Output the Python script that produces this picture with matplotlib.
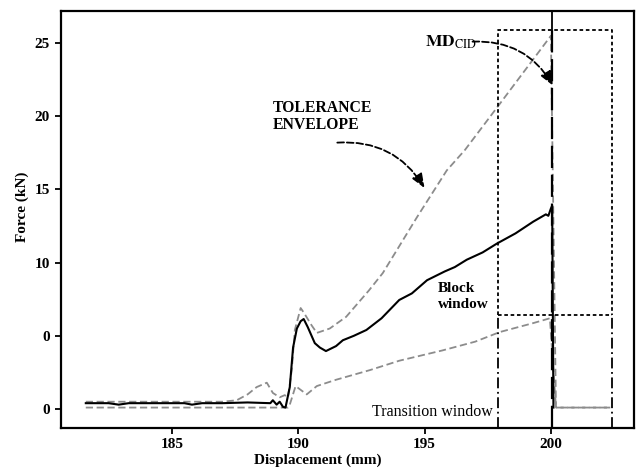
import matplotlib
matplotlib.use("Agg")
import matplotlib.pyplot as plt

plt.rcParams['font.family'] = ['Liberation Serif', 'DejaVu Serif']
plt.rcParams['mathtext.fontset'] = 'stix'

# ---- data ----
mean_x = [181.6, 182.5, 182.9, 183.3, 184.5, 185.5, 185.8, 186.2, 187.0, 188.0, 188.9, 189.0,
          189.15, 189.27, 189.4, 189.5, 189.67, 189.8, 189.95, 190.1, 190.22, 190.38, 190.66,
          190.86, 191.1, 191.5, 191.77, 192.2, 192.7, 193.3, 194.0, 194.5, 195.1, 195.8, 196.2,
          196.67, 197.3, 197.86, 198.6, 199.3, 199.8, 199.9, 200.0, 200.05, 200.1]
mean_y = [0.4, 0.4, 0.3, 0.4, 0.4, 0.4, 0.3, 0.4, 0.4, 0.45, 0.4, 0.6,
          0.3, 0.5, 0.15, 0.1, 1.5, 4.2, 5.5, 6.0, 6.15, 5.6, 4.5,
          4.2, 3.96, 4.3, 4.7, 5.0, 5.4, 6.2, 7.45, 7.9, 8.8, 9.4, 9.7,
          10.2, 10.7, 11.3, 12.0, 12.8, 13.3, 13.2, 13.7, 13.9, 0.1]

upper_x = [181.6, 187.0, 187.57, 188.0, 188.36, 188.76, 189.0, 189.27, 189.47, 189.6, 189.75,
           189.87, 190.1, 190.22, 190.54, 190.74, 191.25, 191.9, 192.8, 193.35, 194.7, 195.88,
           196.6, 198.0, 199.0, 200.0, 200.2, 202.35]
upper_y = [0.5, 0.5, 0.6, 1.0, 1.5, 1.8, 1.1, 0.8, 0.95, 0.8, 2.7,
           5.4, 6.9, 6.6, 5.7, 5.2, 5.5, 6.3, 8.1, 9.29, 13.1, 16.3,
           17.7, 20.9, 23.2, 25.5, 0.1, 0.1]

lower_x = [181.6, 189.6, 189.67, 189.9, 190.34, 190.74, 191.5, 192.84, 194.0, 195.7, 197.0,
           197.98, 199.3, 199.96, 200.2, 202.35]
lower_y = [0.1, 0.1, 0.3, 1.57, 1.0, 1.57, 2.0, 2.66, 3.3, 4.0, 4.6,
           5.26, 5.87, 6.2, 0.1, 0.1]

x_ticks = [185, 190, 195, 200]
x_tick_labels = ['185', '190', '195', '200']
y_ticks = [0, 5, 10, 15, 20, 25]
y_tick_labels = ['0', '0', '10', '15', '20', '25']

window_left = 197.9
window_right = 202.4
window_split = 6.4
window_top = 25.9
md_cid_x = 200.05

fig = plt.figure(figsize=(6.37, 4.73), dpi=100)
ax = fig.add_axes([0.095, 0.095, 0.9, 0.882])

gray = '#8c8c8c'
ax.plot(upper_x, upper_y, color=gray, lw=1.3, dashes=(4, 2))
ax.plot(lower_x, lower_y, color=gray, lw=1.3, dashes=(4, 2))
ax.plot(mean_x, mean_y, color='black', lw=1.5)

# windows
ax.plot([window_left, window_left, window_right, window_right],
        [window_split, window_top, window_top, window_split], color='black', lw=1.3, ls=(0, (2, 1.5)))
ax.plot([window_left, window_right], [window_split, window_split], color='black', lw=1.3, ls=(0, (2, 1.5)))
ax.plot([window_left, window_left], [-1.3, window_split], color='black', lw=1.3, ls=(0, (6, 2, 1, 2)))
ax.plot([window_right, window_right], [-1.3, window_split], color='black', lw=1.3, ls=(0, (6, 2, 1, 2)))
ax.plot([md_cid_x, md_cid_x], [window_top, 28], color='black', lw=1.3)
ax.plot([md_cid_x, md_cid_x], [-1.3, window_top], color='black', lw=1.6, ls=(0, (10, 3)))

ax.set_xlim(180.6, 203.28)
ax.set_ylim(-1.3, 27.2)
ax.set_xticks(x_ticks)
ax.set_xticklabels(x_tick_labels, fontweight='bold', fontsize=11)
ax.set_yticks(y_ticks)
ax.set_yticklabels(y_tick_labels, fontweight='bold', fontsize=11)
ax.tick_params(direction='out', length=4, width=1.3)
for s in ax.spines.values():
    s.set_linewidth(1.6)
ax.set_xlabel('Displacement (mm)', fontweight='bold', fontsize=11)
ax.set_ylabel('Force (kN)', fontweight='bold', fontsize=11)
ax.xaxis.set_label_coords(0.448, -0.06)
ax.yaxis.set_label_coords(-0.055, 0.53)

head = '-|>,head_length=0.7,head_width=0.28'
ax.text(189.0, 21.1, 'TOLERANCE\nENVELOPE', fontweight='bold', fontsize=11.3, va='top', ha='left',
        linespacing=1.1)
ax.annotate('', xy=(195.0, 15.1), xytext=(191.55, 18.2),
            arrowprops=dict(arrowstyle=head, color='black', lw=1.3, ls='--',
                            connectionstyle='arc3,rad=-0.3', mutation_scale=12, shrinkA=0, shrinkB=0))

ax.text(195.0, 24.75, r'$\mathbf{MD}_{\mathrm{CID}}$', fontsize=12.5, va='baseline', ha='left')
ax.annotate('', xy=(200.08, 22.1), xytext=(196.9, 25.1),
            arrowprops=dict(arrowstyle=head, color='black', lw=1.3, ls='--',
                            connectionstyle='arc3,rad=-0.3', mutation_scale=12, shrinkA=0, shrinkB=0))

ax.text(195.53, 8.7, 'Block\nwindow', fontweight='bold', fontsize=11, va='top', ha='left',
        linespacing=1.3)
ax.text(197.7, -0.2, 'Transition window', fontsize=11.5, va='center', ha='right')

fig.savefig('out.png', dpi=100)
